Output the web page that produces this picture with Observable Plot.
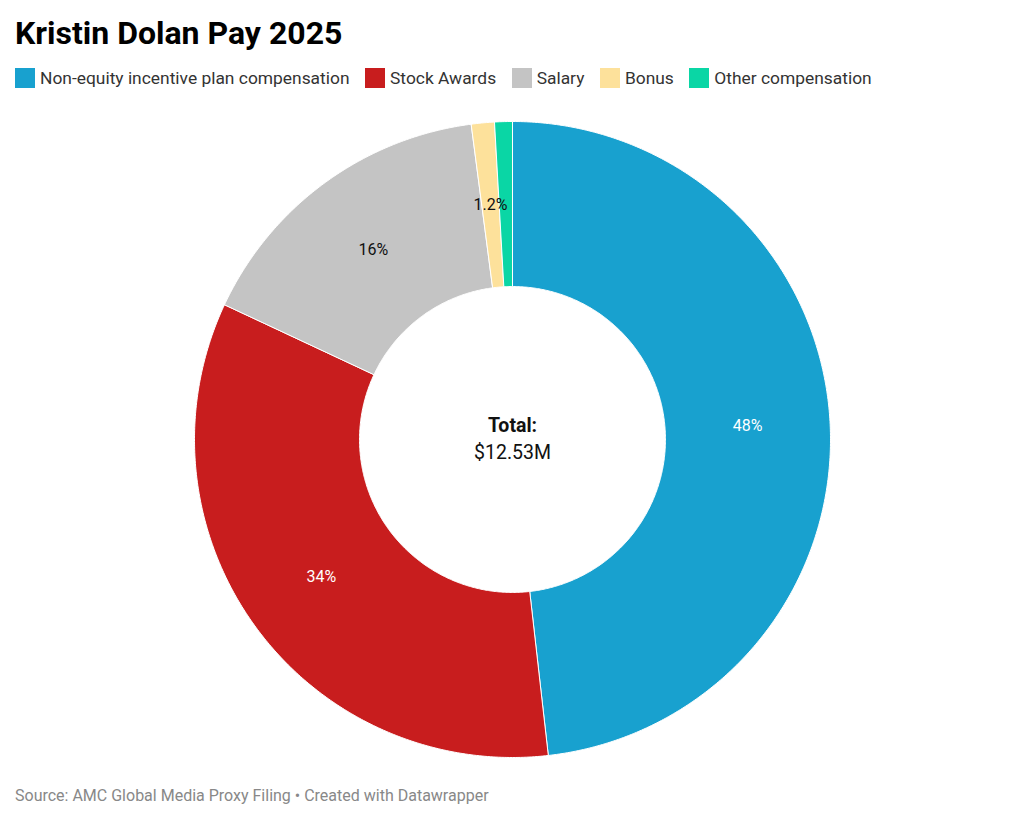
<!DOCTYPE html>
<html>
<head>
<meta charset="utf-8">
<script src="https://cdn.jsdelivr.net/npm/d3@7"></script>
<script src="https://cdn.jsdelivr.net/npm/@observablehq/plot@0.6"></script>
<style>
  html, body { margin: 0; padding: 0; background: #fff; }
  body { width: 1024px; height: 820px; position: relative; font-family: Roboto, "Noto Sans", sans-serif; overflow: hidden; }
  #title { position: absolute; left: 15px; top: 14px; font-size: 32px; font-weight: 700; color: #000; }
  #legend { position: absolute; left: 15px; top: 68px; display: flex; align-items: center; font-size: 17.4px; color: #333; }
  .item { display: flex; align-items: center; margin-right: 15.5px; }
  .sw { width: 20px; height: 20px; margin-right: 5px; }
  #chart { position: absolute; left: 0; top: 100px; }
  #caption { position: absolute; left: 15px; top: 786px; font-size: 16px; color: #888; }
</style>
</head>
<body>
<div id="title">Kristin Dolan Pay 2025</div>
<div id="legend"></div>
<div id="chart"></div>
<div id="caption">Source: AMC Global Media Proxy Filing • Created with Datawrapper</div>
<script>
const categories = ["Non-equity incentive plan compensation", "Stock Awards", "Salary", "Bonus", "Other compensation"];
const values = [6040000, 4230000, 2000000, 147000, 113000];
const colors = ["#18a1cf", "#c81d1e", "#c4c4c4", "#fde19b", "#0ad6a5"];
const labelColors = ["#fff", "#fff", "#111", "#111", "#111"];

// legend
const legend = document.getElementById("legend");
categories.forEach((c, i) => {
  const it = document.createElement("div");
  it.className = "item";
  it.innerHTML = `<div class="sw" style="background:${colors[i]}"></div><span>${c}</span>`;
  legend.appendChild(it);
});

const W = 1024, H = 680, R = 318, cx = 512, cy = 339;
const innerRatio = 0.481;
const total = d3.sum(values);
const pie = d3.pie().sort(null).value(d => d)(values);

const pts = [];
pie.forEach((p, i) => {
  const a0 = p.startAngle, a1 = p.endAngle;
  const n = Math.max(2, Math.ceil((a1 - a0) / (Math.PI / 360)));
  for (let k = 0; k <= n; k++) {
    const a = a0 + (a1 - a0) * k / n;
    pts.push({cat: categories[i], x: Math.sin(a), y: Math.cos(a)});
  }
  for (let k = n; k >= 0; k--) {
    const a = a0 + (a1 - a0) * k / n;
    pts.push({cat: categories[i], x: innerRatio * Math.sin(a), y: innerRatio * Math.cos(a)});
  }
  pts.push({cat: categories[i], x: Math.sin(a0), y: Math.cos(a0)});
});

const labels = pie.map((p, i) => {
  const a = (p.startAngle + p.endAngle) / 2;
  const r = (1 + innerRatio) / 2;
  const pct = values[i] / total * 100;
  const txt = pct < 1 ? "" : pct < 10 ? pct.toFixed(1) + "%" : Math.round(pct) + "%";
  return {x: r * Math.sin(a), y: r * Math.cos(a), txt, color: labelColors[i]};
});

const centerText = [
  {x: 0, y: 14 / R, txt: "Total:", weight: "bold"},
  {x: 0, y: -13 / R, txt: "$" + d3.format(".2f")(total / 1e6) + "M", weight: "normal"}
];

const chart = Plot.plot({
  width: W, height: H,
  margin: 0,
  x: {domain: [-cx / R, (W - cx) / R], axis: null},
  y: {domain: [-(H - cy) / R, cy / R], axis: null},
  color: {domain: categories, range: colors},
  style: {fontFamily: "Roboto, 'Noto Sans', sans-serif", background: "#fff"},
  marks: [
    Plot.line(pts, {x: "x", y: "y", z: "cat", fill: "cat", stroke: "#fff", strokeWidth: 1, curve: "linear"}),
    Plot.text(labels, {x: "x", y: "y", text: "txt", fill: d => d.color, fontSize: 16}),
    Plot.text(centerText.filter(d => d.weight === "bold"), {x: "x", y: "y", text: "txt", fill: "#111", fontSize: 19.5, fontWeight: "bold"}),
    Plot.text(centerText.filter(d => d.weight !== "bold"), {x: "x", y: "y", text: "txt", fill: "#111", fontSize: 19.5})
  ]
});
document.getElementById("chart").appendChild(chart);
</script>
</body>
</html>
